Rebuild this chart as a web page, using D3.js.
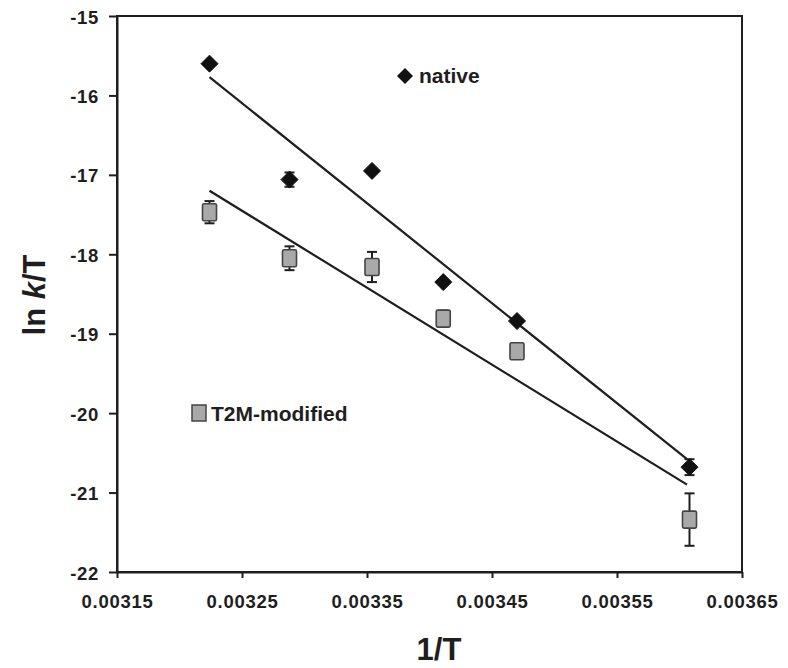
<!DOCTYPE html>
<html><head><meta charset="utf-8">
<script src="https://cdn.jsdelivr.net/npm/d3@7"></script>
<style>body{margin:0;background:#fff;} svg{display:block;}</style>
</head><body>
<svg id="c" width="788" height="668"></svg>
<script>
const xTicks = [0.00315, 0.00325, 0.00335, 0.00345, 0.00355, 0.00365];
const yTicks = [-15, -16, -17, -18, -19, -20, -21, -22];

const nativeX = [0.003224, 0.003288, 0.003354, 0.003411, 0.003470, 0.003608];
const nativeY = [-15.60, -17.06, -16.95, -18.35, -18.84, -20.68];
const nativeErr = [0.00, 0.09, 0.00, 0.00, 0.00, 0.10];

const modX = [0.003224, 0.003288, 0.003354, 0.003411, 0.003470, 0.003608];
const modY = [-17.47, -18.05, -18.16, -18.81, -19.22, -21.34];
const modErr = [0.14, 0.15, 0.19, 0.10, 0.06, 0.33];

const nativeFitX = [0.003224, 0.003606];
const nativeFitY = [-15.77, -20.58];
const modFitX = [0.003224, 0.003606];
const modFitY = [-17.20, -20.90];

const svg = d3.select("#c");
const L = 117, R = 742, T = 16, B = 572;
const x = d3.scaleLinear().domain([0.00315, 0.00365]).range([L, R]);
const y = d3.scaleLinear().domain([-22, -15]).range([B, T]);
const font = "'Liberation Sans', Arial, sans-serif";
const ink = "#1e1e1e";

// frame
svg.append("rect").attr("x", L).attr("y", T).attr("width", R - L).attr("height", B - T)
  .attr("fill", "none").attr("stroke", ink).attr("stroke-width", 2);

const xa = svg.append("g").attr("transform", `translate(0,${B})`)
  .call(d3.axisBottom(x).tickValues(xTicks).tickFormat(d3.format(".5f")).tickSize(6).tickSizeOuter(0));
const ya = svg.append("g").attr("transform", `translate(${L},0)`)
  .call(d3.axisLeft(y).tickValues(yTicks).tickFormat(d => d).tickSize(8).tickSizeOuter(0));
[xa, ya].forEach(a => {
  a.select(".domain").attr("stroke", ink).attr("stroke-width", 2);
  a.selectAll(".tick line").attr("stroke", ink).attr("stroke-width", 2);
  a.selectAll("text").attr("font-family", font).attr("font-weight", "bold")
    .attr("font-size", 18.5).attr("letter-spacing", 0.7).attr("fill", ink);
});
xa.selectAll("text").attr("y", 23).attr("dy", "0.71em");
ya.selectAll("text").attr("x", -18).attr("dy", "0.38em");

// fit lines
const line = d3.line().x(d => x(d[0])).y(d => y(d[1]));
svg.append("path").datum(nativeFitX.map((v, i) => [v, nativeFitY[i]]))
  .attr("d", line).attr("stroke", ink).attr("stroke-width", 2.2).attr("fill", "none");
svg.append("path").datum(modFitX.map((v, i) => [v, modFitY[i]]))
  .attr("d", line).attr("stroke", ink).attr("stroke-width", 2.2).attr("fill", "none");

// error bars
function errBars(xs, ys, es) {
  const g = svg.append("g").attr("stroke", ink).attr("stroke-width", 2);
  xs.forEach((xv, i) => {
    if (es[i] <= 0) return;
    const cx = x(xv), y1 = y(ys[i] + es[i]), y2 = y(ys[i] - es[i]);
    g.append("line").attr("x1", cx).attr("x2", cx).attr("y1", y1).attr("y2", y2);
    g.append("line").attr("x1", cx - 5).attr("x2", cx + 5).attr("y1", y1).attr("y2", y1);
    g.append("line").attr("x1", cx - 5).attr("x2", cx + 5).attr("y1", y2).attr("y2", y2);
  });
}
errBars(modX, modY, modErr);
errBars(nativeX, nativeY, nativeErr);

// markers
function diamondPath(cx, cy, s) {
  return `M${cx},${cy - s}L${cx + s},${cy}L${cx},${cy + s}L${cx - s},${cy}Z`;
}
svg.append("g").selectAll("path").data(nativeX).join("path")
  .attr("d", (d, i) => diamondPath(x(d), y(nativeY[i]), 8.5))
  .attr("fill", "#111").attr("stroke", "#111").attr("stroke-width", 1).attr("stroke-linejoin", "round");
svg.append("g").selectAll("rect").data(modX).join("rect")
  .attr("x", d => x(d) - 7).attr("y", (d, i) => y(modY[i]) - 8.5)
  .attr("width", 14).attr("height", 17).attr("rx", 1.5)
  .attr("fill", "#a9a9a9").attr("stroke", "#444").attr("stroke-width", 1.6);

// legends
svg.append("path").attr("d", diamondPath(405, 76, 8)).attr("fill", "#111");
svg.append("text").attr("x", 419).attr("y", 83).text("native")
  .attr("font-family", font).attr("font-weight", "bold").attr("font-size", 21).attr("fill", ink);
svg.append("rect").attr("x", 192).attr("y", 405).attr("width", 14).attr("height", 16)
  .attr("fill", "#a9a9a9").attr("stroke", "#444").attr("stroke-width", 1.5);
svg.append("text").attr("x", 211).attr("y", 421).text("T2M-modified")
  .attr("font-family", font).attr("font-weight", "bold").attr("font-size", 21).attr("fill", ink);

// axis titles
svg.append("text").attr("x", 439).attr("y", 660).attr("text-anchor", "middle")
  .attr("font-family", font).attr("font-weight", "bold").attr("font-size", 31).attr("fill", ink).text("1/T");
const yt = svg.append("text").attr("transform", "translate(45,295) rotate(-90)").attr("text-anchor", "middle")
  .attr("font-family", font).attr("font-weight", "bold").attr("font-size", 31).attr("fill", ink);
yt.append("tspan").text("ln ");
yt.append("tspan").attr("font-style", "italic").text("k");
yt.append("tspan").text("/T");
</script>
</body></html>
